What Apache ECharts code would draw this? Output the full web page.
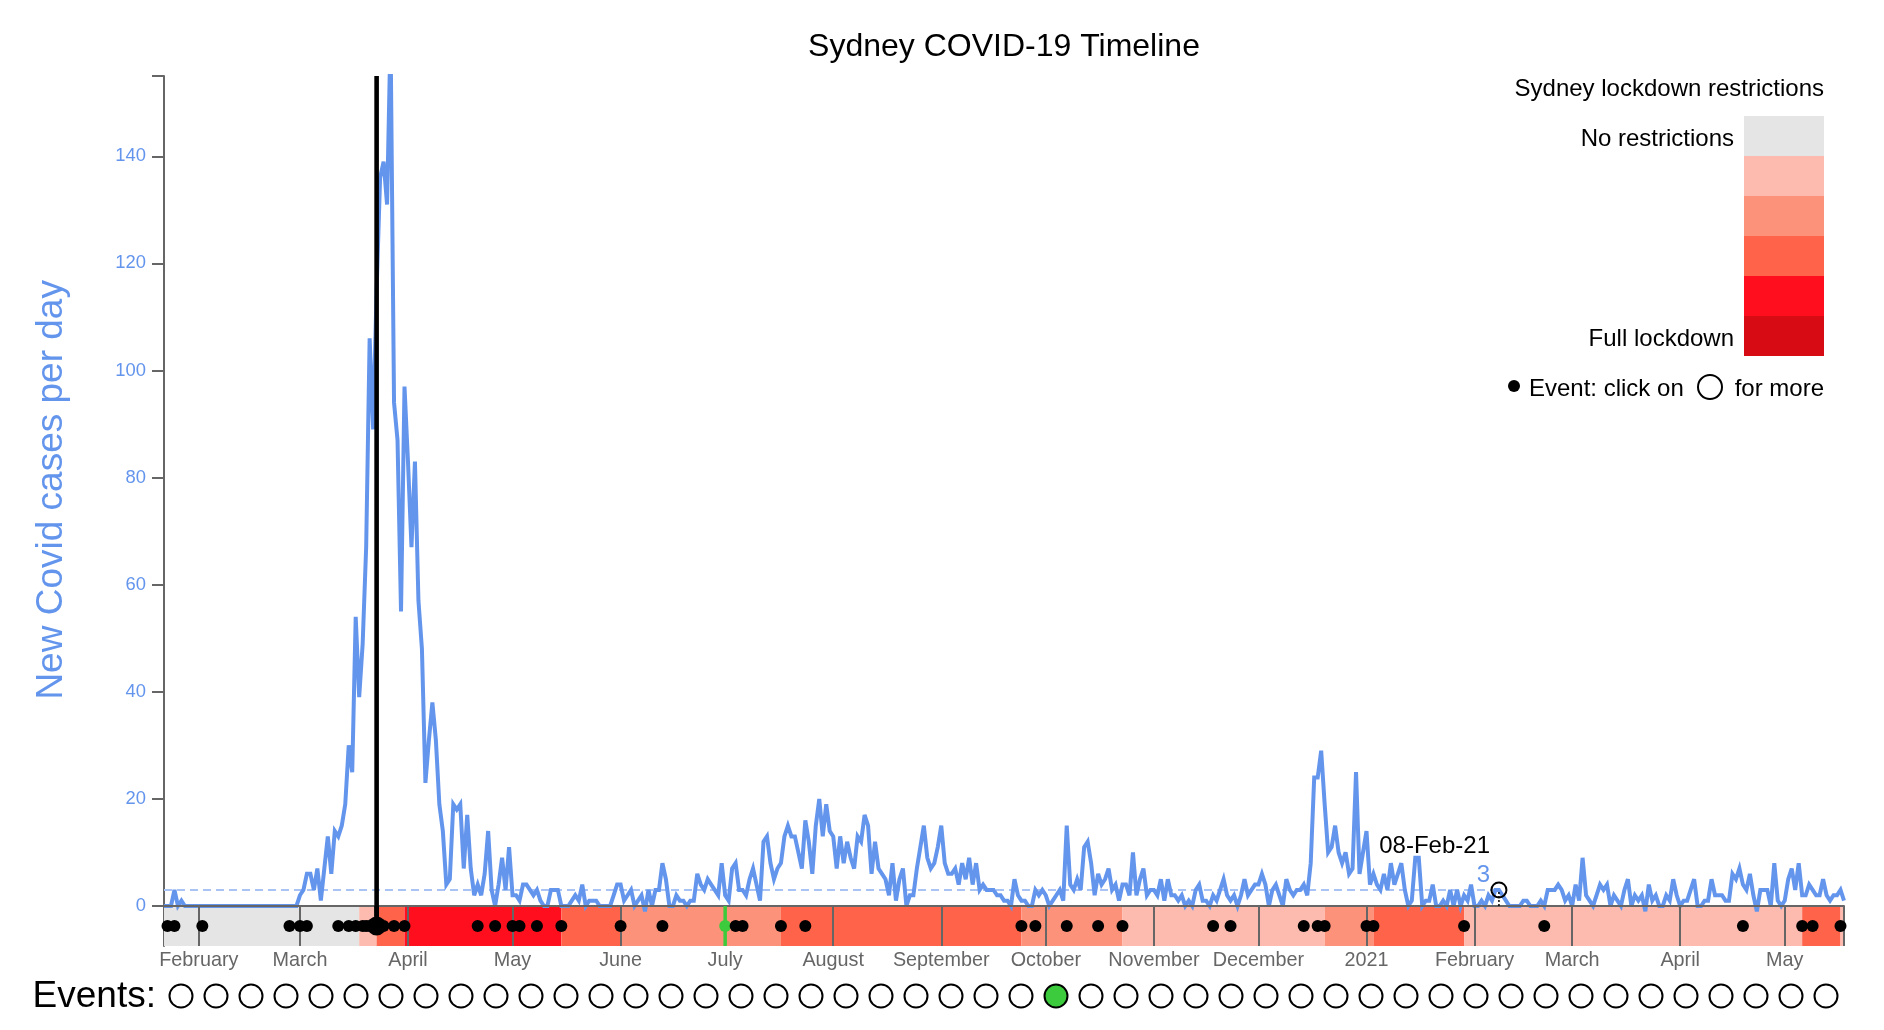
<!DOCTYPE html>
<html>
<head>
<meta charset="utf-8">
<title>Sydney COVID-19 Timeline</title>
<script src="https://cdn.jsdelivr.net/npm/echarts@6/dist/echarts.min.js"></script>
<style>html,body{margin:0;padding:0;background:#fff}#chart{width:1884px;height:1030px}</style>
</head>
<body>
<div id="chart"></div>
<script>
// Day numbers count from 22 Jan 2020 (day 0) to 18 May 2021 (day 482).
const lastDay = 482;
const caseCounts = [
  0,0,0,3,0,1,0,0,0,0,
  0,0,0,0,0,0,0,0,0,0,
  0,0,0,0,0,0,0,0,0,0,
  0,0,0,0,0,0,0,0,0,2,
  3,6,6,3,7,1,7,13,6,14,
  13,15,19,30,25,54,39,49,67,106,
  89,115,136,139,131,163,94,87,55,97,
  83,67,83,57,48,23,31,38,31,19,
  14,4,5,19,18,19,7,17,7,2,
  4,2,6,14,3,0,4,9,3,11,
  2,2,1,4,4,3,2,3,1,0,
  0,3,3,3,0,0,0,1,2,1,
  4,0,1,1,1,0,0,0,0,2,
  4,4,1,2,3,0,1,2,-1,3,
  0,3,3,8,5,0,0,2,1,1,
  0,1,1,6,4,3,5,4,3,2,
  8,2,1,7,8,3,3,2,5,7,
  4,1,12,13,8,5,7,8,13,15,
  13,13,10,7,16,12,6,15,20,13,
  19,14,13,7,13,8,12,9,7,13,
  12,17,15,6,12,7,6,5,2,8,
  1,5,7,0,2,2,7,11,15,9,
  7,8,11,15,8,6,6,7,4,8,
  5,9,4,8,3,4,3,3,3,2,
  2,1,1,0,5,2,1,1,0,0,
  3,2,3,2,0,1,2,3,1,15,
  4,3,5,3,11,12,8,2,6,4,
  5,7,3,4,1,4,4,2,10,2,
  5,7,2,3,3,2,5,1,5,2,
  2,1,2,0,1,0,3,4,1,1,
  0,2,1,3,5,2,1,2,0,2,
  5,2,3,4,4,6,4,0,3,4,
  2,0,5,3,2,3,3,4,2,8,
  24,24,29,19,10,11,15,10,8,10,
  6,7,25,6,10,14,4,6,4,3,
  6,3,8,4,6,8,3,0,1,9,
  9,0,1,1,4,0,0,1,0,3,
  0,3,0,2,1,4,0,0,1,0,
  2,1,3,3,2,1,0,0,0,0,
  1,1,0,0,0,1,0,3,3,3,
  4,3,1,2,0,4,1,9,2,1,
  0,2,4,3,4,0,2,1,0,3,
  5,0,2,1,2,-1,4,1,2,0,
  0,2,1,5,2,0,1,1,3,5,
  0,0,1,1,5,2,2,2,1,1,
  6,5,7,4,3,6,2,-1,3,3,
  3,0,8,1,0,1,5,7,3,8,
  2,2,4,3,2,2,5,2,1,2,
  2,3,1
];
const monthDays = [10,39,70,100,131,161,192,223,253,284,314,345,376,404,435,465];
const monthLabels = ['February','March','April','May','June','July','August','September','October','November','December','2021','February','March','April','May'];
const restrictionStart = [0,56,61,69,114,131,177,246,275,333,347,373,470,481];
const restrictionEnd   = [56,61,69,114,131,177,246,275,333,347,373,470,481,482];
const restrictionLevel = [0,1,3,4,3,2,3,2,1,2,3,1,3,1];
const levelColors = ['#e5e5e5','#fcbbae','#fd927a','#ff634a','#ff0f1e','#d60b14'];
const eventDays = [1,3,11,36,39,41,50,53,55,57,58,59,60,61,63,66,69,90,95,100,102,107,114,131,143,161,164,166,177,184,246,250,259,268,275,301,306,327,331,333,345,347,373,396,453,470,473,481];
const lockdownDay = 61;
const selectedDay = 161;
const hoverDay = 383;
const hoverValue = 3;
const yTicks = [0,20,40,60,80,100,120,140];

const blue = '#6495ed', axisGrey = '#666666', green = '#3ccb3c';
const font = '"Liberation Sans", Arial, Helvetica, sans-serif';

const chart = echarts.init(document.getElementById('chart'), null, {renderer:'canvas'});
const txt = (x,y,text,size,align,color) => ({type:'text',x,y,z:20,style:{text,fontSize:size,fontFamily:font,fill:color||'#000',textAlign:align,textVerticalAlign:'middle'}});
const legendSwatches = levelColors.map((c,i)=>({type:'rect',z:10,shape:{x:1744,y:116+40*i,width:80,height:40},style:{fill:c}}));

chart.setOption({
  animation:false,
  backgroundColor:'#fff',
  textStyle:{fontFamily:font},
  title:{text:'Sydney COVID-19 Timeline',left:999,top:26,textAlign:'center',textStyle:{fontSize:32,fontWeight:'normal',color:'#000',fontFamily:font}},
  grid:[
    {left:164,width:1680,top:76,height:840.7},
    {left:164,width:1680,top:906,height:40},
    {left:181,width:1645,top:976,height:40}
  ],
  xAxis:[
    {type:'value',gridIndex:0,min:0,max:lastDay,z:5,splitLine:{show:false},axisTick:{show:false},axisLabel:{show:false},
     axisLine:{onZero:true,lineStyle:{color:axisGrey,width:2}}},
    {type:'value',gridIndex:1,min:0,max:lastDay,z:5,splitLine:{show:false},axisLine:{show:false},
     axisTick:{show:true,inside:true,length:40,lineStyle:{color:axisGrey,width:2},customValues:monthDays.concat([lastDay])},
     axisLabel:{show:true,margin:5,fontSize:19.8,color:axisGrey,fontFamily:font,hideOverlap:false,customValues:monthDays,
       formatter:v=>monthLabels[monthDays.indexOf(+v)]||''}},
    {type:'value',gridIndex:2,min:0,max:47,show:false}
  ],
  yAxis:[
    {type:'value',gridIndex:0,min:-2,max:155,splitLine:{show:false},
     name:'New Covid cases per day',nameLocation:'middle',nameGap:94,nameRotate:90,
     nameTextStyle:{fontSize:37,color:blue,fontFamily:font,padding:[0,0,0,13]},
     axisLine:{show:true,lineStyle:{color:axisGrey,width:2}},
     axisTick:{show:true,length:12,lineStyle:{color:axisGrey,width:2},customValues:yTicks.concat([155])},
     axisLabel:{show:true,margin:18,fontSize:18.4,color:blue,fontFamily:font,customValues:yTicks}},
    {type:'value',gridIndex:1,min:0,max:1,splitLine:{show:false},axisTick:{show:false},axisLabel:{show:false},
     axisLine:{show:true,lineStyle:{color:axisGrey,width:2}}},
    {type:'value',gridIndex:2,min:0,max:1,show:false}
  ],
  series:[
    {name:'Restrictions',type:'custom',xAxisIndex:1,yAxisIndex:1,z:1,silent:true,
     encode:{x:[0,1],y:2},
     data:restrictionStart.map((s,i)=>[s,restrictionEnd[i],restrictionLevel[i]]),
     renderItem:(p,api)=>{
       const a=api.coord([api.value(0),1]), b=api.coord([api.value(1),0]);
       return {type:'rect',shape:{x:a[0],y:a[1],width:b[0]-a[0],height:b[1]-a[1]},style:{fill:levelColors[api.value(2)]}};
     }},
    {name:'Average',type:'line',xAxisIndex:0,yAxisIndex:0,z:2,symbol:'none',silent:true,
     data:[[0,hoverValue],[hoverDay,hoverValue]],
     lineStyle:{color:'#a9c4f4',width:2,type:[8,5]}},
    {name:'New Covid cases per day',type:'line',xAxisIndex:0,yAxisIndex:0,z:4,symbol:'none',silent:true,
     data:caseCounts.map((v,i)=>[i,v]),
     lineStyle:{color:blue,width:4,join:'miter',miterLimit:4}},
    {name:'Lockdown line',type:'line',xAxisIndex:0,yAxisIndex:0,z:6,symbol:'none',silent:true,
     data:[[lockdownDay,-2],[lockdownDay,155]],
     lineStyle:{color:'#000',width:4.6}},
    {name:'Lockdown line band',type:'line',xAxisIndex:1,yAxisIndex:1,z:6,symbol:'none',silent:true,
     data:[[lockdownDay,0.5],[lockdownDay,1]],
     lineStyle:{color:'#000',width:4.6}},
    {name:'Selected event line',type:'line',xAxisIndex:1,yAxisIndex:1,z:6,symbol:'none',silent:true,
     data:[[selectedDay,0],[selectedDay,1]],
     lineStyle:{color:green,width:3.5}},
    {name:'Events',type:'scatter',xAxisIndex:1,yAxisIndex:1,z:7,silent:true,
     data:eventDays.map(d=>({value:[d,0.5],
       symbolSize:d===lockdownDay?19:12,
       itemStyle:{color:d===selectedDay?green:'#000',opacity:1}}))},
    {name:'Hover stem',type:'line',xAxisIndex:0,yAxisIndex:0,z:6,symbol:'none',silent:true,
     data:[[hoverDay,0],[hoverDay,hoverValue]],
     lineStyle:{color:'#000',width:1.5,type:[2,2]}},
    {name:'Hover point',type:'scatter',xAxisIndex:0,yAxisIndex:0,z:8,silent:true,symbol:'circle',symbolSize:15,
     data:[[hoverDay,hoverValue]],
     itemStyle:{color:'transparent',borderColor:'#000',borderWidth:2,opacity:1}},
    {name:'Event buttons',type:'scatter',xAxisIndex:2,yAxisIndex:2,z:5,silent:true,symbolSize:23,
     data:eventDays.map((d,i)=>({value:[i,0.5],itemStyle:{color:d===selectedDay?green:'#fff',borderColor:'#000',borderWidth:2,opacity:1}}))}
  ],
  graphic:[
    txt(1824,89,'Sydney lockdown restrictions',24,'right'),
    txt(1734,139,'No restrictions',24,'right'),
    txt(1734,339,'Full lockdown',24,'right'),
    ...legendSwatches,
    {type:'circle',z:10,shape:{cx:1514,cy:386,r:6},style:{fill:'#000'}},
    txt(1529,389,'Event: click on',24,'left'),
    {type:'circle',z:10,shape:{cx:1710,cy:387,r:12},style:{fill:'#fff',stroke:'#000',lineWidth:2}},
    txt(1824,389,'for more',24,'right'),
    txt(156,997,'Events:',37,'right'),
    txt(1490,846,'08-Feb-21',24,'right'),
    txt(1490,875,String(hoverValue),24,'right',blue)
  ]
});
</script>
</body>
</html>
